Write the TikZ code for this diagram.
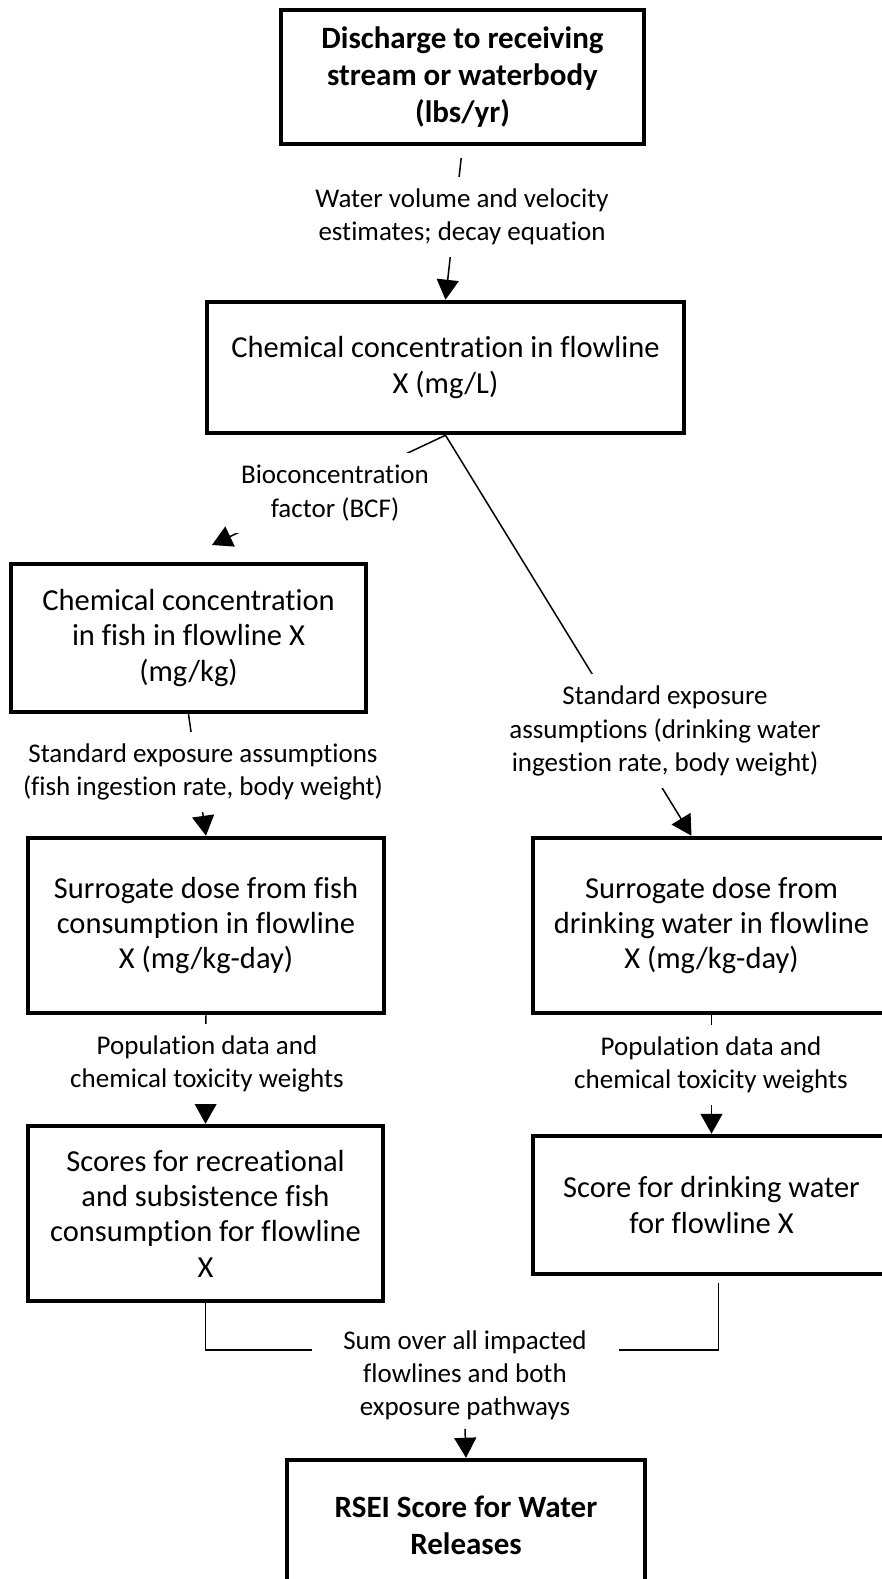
\documentclass[tikz,border=0pt]{standalone}
\usepackage{fontspec}
\setmainfont{Carlito}[Ligatures=NoCommon]
\usetikzlibrary{arrows.meta}

\begin{document}
\begin{tikzpicture}[x=1pt,y=-1pt,
  box/.style={draw,line width=4.5pt,inner sep=0pt,align=center,
    font=\fontsize{30.5}{35.3}\selectfont},
  boldbox/.style={box,font=\fontsize{31}{37}\selectfont\bfseries},
  lbl/.style={fill=white,inner xsep=6pt,inner ysep=12pt,align=center,
    font=\fontsize{27}{33.2}\selectfont},
  conn/.style={line width=1.5pt,-{Triangle[width=22pt,length=20pt]}}]
\useasboundingbox (0,0) rectangle (882,1579);
\node[boldbox,minimum width=363pt,minimum height=134pt] (discharge) at (462.5,77)
  {Discharge to receiving\\stream or waterbody\\(lbs/yr)};
\node[box,minimum width=477pt,minimum height=131pt] (conc) at (445.5,367.5)
  {Chemical concentration in flowline\\X (mg/L)};
\node[box,minimum width=355pt,minimum height=148pt] (fishconc) at (188.5,638)
  {Chemical concentration\\in fish in flowline X\\(mg/kg)};
\node[box,minimum width=356pt,minimum height=175pt] (fishdose) at (206,925.5)
  {Surrogate dose from fish\\consumption in flowline\\X (mg/kg-day)};
\node[box,minimum width=357pt,minimum height=175pt] (dwdose) at (711.5,925.5)
  {Surrogate dose from\\drinking water in flowline\\X (mg/kg-day)};
\node[box,minimum width=355pt,minimum height=175pt] (fishscore) at (205.5,1213.5)
  {Scores for recreational\\and subsistence fish\\consumption for flowline\\X};
\node[box,minimum width=357pt,minimum height=138pt] (dwscore) at (711.5,1205)
  {Score for drinking water\\for flowline X};
\node[boldbox,minimum width=358pt,minimum height=130pt] (rsei) at (466,1525)
  {RSEI Score for Water\\Releases};

\coordinate (bcfend) at (212,545);
\coordinate (sumL) at (312,1350);
\coordinate (sumR) at (619,1350);

\draw[conn,shorten <=12pt] (discharge.south) -- (conc.north);
\draw[conn] (conc.south) -- (bcfend);
\draw[conn] (conc.south) -- ([xshift=-20pt]dwdose.north);
\draw[conn] (fishconc.south) -- (fishdose.north);
\draw[conn] (fishdose.south) -- (fishscore.north);
\draw[conn] (dwdose.south) -- (dwscore.north);
\draw[line width=1.5pt] (fishscore.south) |- (sumL);
\draw[line width=1.5pt] ([xshift=7pt,yshift=-7pt]dwscore.south) |- (sumR);

\node[lbl] (volume) at (462,217) {Water volume and velocity\\estimates; decay equation};
\node[lbl] (bcf) at (335,493) {Bioconcentration\\factor (BCF)};
\node[lbl] (dwexpo) at (665,731) {Standard exposure\\assumptions (drinking water\\ingestion rate, body weight)};
\node[lbl] (fishexpo) at (203,772) {Standard exposure assumptions\\(fish ingestion rate, body weight)};
\node[lbl] (fishpop) at (207,1064) {Population data and\\chemical toxicity weights};
\node[lbl] (dwpop) at (711,1065) {Population data and\\chemical toxicity weights};
\node[lbl,inner ysep=9pt] (sum) at (465,1375) {Sum over all impacted\\flowlines and both\\exposure pathways};
\draw[conn] (sum.south) -- (rsei.north);
\end{tikzpicture}
\end{document}
